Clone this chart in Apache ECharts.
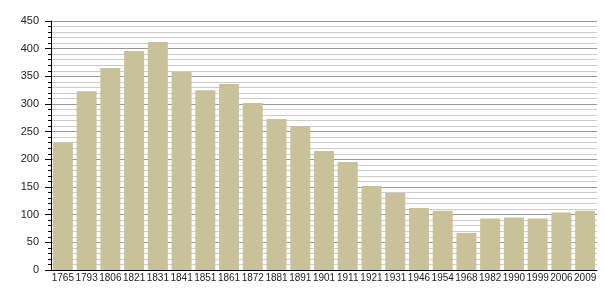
<!DOCTYPE html>
<html>
<head>
<meta charset="utf-8">
<script src="https://cdn.jsdelivr.net/npm/echarts@6/dist/echarts.min.js"></script>
<style>
  html, body { margin: 0; padding: 0; background: #fff; }
  #chart { width: 605px; height: 300px; }
</style>
</head>
<body>
<div id="chart"></div>
<script>
// population by census year
const years = ['1765', '1793', '1806', '1821', '1831', '1841', '1851', '1861', '1872', '1881', '1891', '1901',
  '1911', '1921', '1931', '1946', '1954', '1968', '1982', '1990', '1999', '2006', '2009']
const population = [230, 323, 365, 396, 412, 358, 325, 336, 302, 273, 260, 215,
  195, 152, 139, 112, 107, 67, 93, 95, 93, 104, 107]

const chart = echarts.init(document.getElementById('chart'))

const option = {
  animation: false,
  grid: {
    left: 51,
    right: 8,
    top: 21,
    bottom: 30
  },
  xAxis: {
    type: 'category',
    data: years,
    axisLine: { lineStyle: { color: '#000', width: 1 } },
    axisTick: { show: false },
    axisLabel: {
      interval: 0,
      margin: 3,
      color: '#222',
      fontSize: 10,
      fontFamily: 'Liberation Sans'
    }
  },
  yAxis: {
    type: 'value',
    min: 0,
    max: 450,
    interval: 50,
    axisLine: { show: true, lineStyle: { color: '#000', width: 1 } },
    axisTick: { show: true, length: 6, lineStyle: { color: '#000' } },
    minorTick: { show: true, splitNumber: 5, length: 3, lineStyle: { color: '#000' } },
    axisLabel: {
      margin: 12,
      color: '#222',
      fontSize: 11,
      fontFamily: 'Liberation Sans'
    },
    splitLine: { show: true, lineStyle: { color: '#999', width: 1 } },
    minorSplitLine: { show: true, lineStyle: { color: '#ccc', width: 1 } }
  },
  series: [
    {
      type: 'bar',
      data: population,
      barWidth: 20,
      itemStyle: { color: '#c9c199' }
    }
  ]
}

chart.setOption(option)
</script>
</body>
</html>
